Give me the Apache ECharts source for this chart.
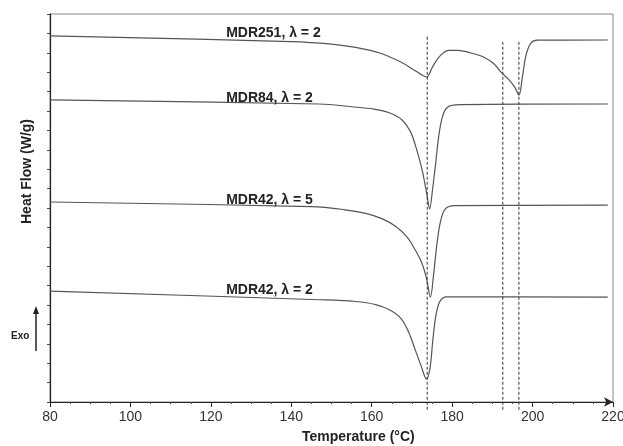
<!DOCTYPE html>
<html>
<head>
<meta charset="utf-8">
<script src="https://cdn.jsdelivr.net/npm/echarts@6/dist/echarts.min.js"></script>
<style>
  html, body { margin: 0; padding: 0; background: #fff; }
  #chart { width: 623px; height: 446px; }
</style>
</head>
<body>
<div id="chart"></div>
<script>
// [temperature (°C), heat flow (arbitrary offset units)]
const mdr251L2 = [
  [80, 18.87], [140, 18.58], [150, 18.45], [156, 18.28],
  [162, 17.99], [167, 17.55], [170.4, 17.13], [172.6, 16.84], [173.6, 16.75],
  [175.2, 17.3], [177.1, 17.87], [179.2, 18.13], [181.5, 18.12], [184.5, 18.0],
  [187.8, 17.78], [190.3, 17.45], [192.4, 16.95], [194.1, 16.62], [195.6, 16.22],
  [196.6, 15.82], [197.5, 16.8], [198.4, 17.9], [199.6, 18.5], [201.2, 18.65],
  [218.7, 18.66]
];
const mdr84L2 = [
  [80, 15.57], [147, 15.36], [155, 15.22], [160.5, 15.1],
  [164.5, 14.9], [167.5, 14.55], [169.6, 13.95], [171.2, 13.0], [172.6, 11.9],
  [173.8, 10.6], [174.4, 9.95], [175.1, 10.9], [175.9, 12.3], [176.8, 13.9],
  [177.9, 14.9], [179.3, 15.25], [182, 15.33], [218.7, 15.36]
];
const mdr42L5 = [
  [80, 10.31], [145, 10.07], [153, 9.92], [158.5, 9.72],
  [162.5, 9.45], [166, 9.05], [168.8, 8.5], [170.8, 7.85], [172.4, 7.2], [173.6, 6.4],
  [174.6, 5.41], [175.4, 6.6], [176.2, 8.1], [177.1, 9.3], [178.3, 9.95], [180.5, 10.12],
  [218.7, 10.15]
];
const mdr42L2 = [
  [80, 5.72], [147, 5.27], [156, 5.18], [161, 5.02],
  [164.5, 4.74], [167.3, 4.3], [169.2, 3.6], [170.8, 2.7], [172.3, 1.85], [173.6, 1.19],
  [174.5, 1.75], [175.2, 3.2], [176.0, 4.5], [177.0, 5.2], [178.6, 5.42],
  [218.7, 5.41]
];
const curveNames = ['MDR251, λ = 2', 'MDR84, λ = 2', 'MDR42, λ = 5', 'MDR42, λ = 2'];
const curveLabelAt = [[123.8, 19.02], [123.8, 15.67], [123.8, 10.41], [123.8, 5.77]];

// vertical reference lines: [temperature, top]
const refLines = [[173.8, 18.92], [192.6, 18.56], [196.6, 18.56]];

const chart = echarts.init(document.getElementById('chart'));

const curves = [mdr251L2, mdr84L2, mdr42L5, mdr42L2];
const series = curves.map((d, i) => ({
  type: 'line',
  name: curveNames[i],
  data: d,
  smooth: 0.35,
  symbol: 'none',
  lineStyle: { color: '#555', width: 1.2 },
  markPoint: {
    symbol: 'circle',
    symbolSize: 0,
    data: [{ coord: curveLabelAt[i] }],
    label: {
      show: true,
      position: 'right',
      distance: 0,
      formatter: curveNames[i],
      color: '#222',
      fontFamily: 'Liberation Sans',
      fontWeight: 'bold',
      fontSize: 14
    }
  }
}));

refLines.forEach(([t, top]) => {
  series.push({
    type: 'line',
    data: [[t, -0.4], [t, top]],
    symbol: 'none',
    clip: false,
    lineStyle: { color: '#333', width: 1, type: [3, 2] }
  });
});

chart.setOption({
  animation: false,
  grid: {
    left: 50, right: 10, top: 14, bottom: 44,
    outerBoundsMode: 'none',
    show: true, borderColor: '#888', borderWidth: 1
  },
  xAxis: {
    type: 'value',
    min: 80,
    max: 220,
    interval: 20,
    axisLine: { lineStyle: { color: '#222', width: 1.2 }, symbol: ['none', 'arrow'], symbolSize: [7, 9] },
    axisTick: { length: 5, lineStyle: { color: '#222' } },
    minorTick: { show: true, splitNumber: 4, length: 2, lineStyle: { color: '#444' } },
    splitLine: { show: false },
    axisLabel: { color: '#333', fontFamily: 'Liberation Sans', fontSize: 14, margin: 8 }
  },
  yAxis: {
    type: 'value',
    min: 0,
    max: 20,
    interval: 1,
    axisLine: { show: true, lineStyle: { color: '#222', width: 1.2 } },
    axisTick: { length: 3, lineStyle: { color: '#444' } },
    splitLine: { show: false },
    axisLabel: { show: false }
  },
  graphic: [
    {
      type: 'text', left: 302, top: 430,
      style: { text: 'Temperature (°C)', fontFamily: 'Liberation Sans', fontWeight: 'bold', fontSize: 14, fill: '#222' }
    },
    {
      type: 'text', x: 20, y: 224, rotation: Math.PI / 2,
      style: { text: 'Heat Flow (W/g)', fontFamily: 'Liberation Sans', fontWeight: 'bold', fontSize: 14, fill: '#222' }
    },
    {
      type: 'text', left: 11, top: 331,
      style: { text: 'Exo', fontFamily: 'Liberation Sans', fontWeight: 'bold', fontSize: 10, fill: '#222' }
    },
    {
      type: 'line', shape: { x1: 36, y1: 351, x2: 36, y2: 313 },
      style: { stroke: '#222', lineWidth: 1.5 }
    },
    {
      type: 'polygon', shape: { points: [[33, 314], [39, 314], [36, 306]] },
      style: { fill: '#222' }
    }
  ],
  series: series
});
</script>
</body>
</html>
